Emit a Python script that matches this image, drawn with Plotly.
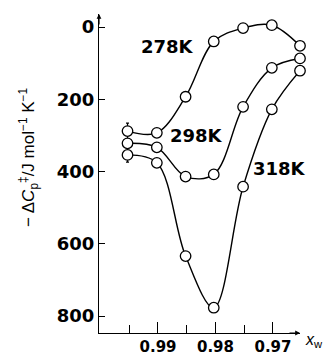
import plotly.graph_objects as go

# x_w values (mole fraction of water)
x_w = [0.9953, 0.9902, 0.9852, 0.9803, 0.9752, 0.9702, 0.9653]

# -ΔCp‡ values (J mol-1 K-1)
cp_278 = [288, 293, 193, 40, 3, -5, 52]
cp_298 = [322, 333, 414, 408, 221, 113, 87]
cp_318 = [354, 376, 634, 777, 442, 228, 121]

# error bar on the first point (drawn on the 298 K series)
err_plus = [52, 0, 0, 0, 0, 0, 0]
err_minus = [56, 0, 0, 0, 0, 0, 0]

series_labels = ["278K", "298K", "318K"]
y_ticks = [0, 200, 400, 600, 800]
x_ticks = [0.99, 0.98, 0.97]
x_ticklabels = ["0.99", "0.98", "0.97"]
x_minor = [0.995, 0.985, 0.975]

FONT = "DejaVu Sans"

fig = go.Figure()

marker = dict(size=10.5, color="white", line=dict(color="black", width=1.3))
line = dict(color="black", width=1.4, shape="spline", smoothing=1.0)

fig.add_trace(go.Scatter(x=x_w, y=cp_298, mode="lines+markers", marker=marker, line=line,
                         cliponaxis=False,
                         error_y=dict(type="data", symmetric=False, array=err_plus,
                                      arrayminus=err_minus, color="black", thickness=1.2, width=1.5)))
fig.add_trace(go.Scatter(x=x_w, y=cp_278, mode="lines+markers", marker=marker, line=line,
                         cliponaxis=False))
fig.add_trace(go.Scatter(x=x_w, y=cp_318, mode="lines+markers", marker=marker, line=line,
                         cliponaxis=False))

label_pos = [(0.98843, 55), (0.98327, 299), (0.96878, 391)]
for txt, (lx, ly) in zip(series_labels, label_pos):
    fig.add_annotation(x=lx, y=ly, xref="x", yref="y", text=txt, showarrow=False,
                       font=dict(family=FONT, size=18, color="black", weight="bold"))

# y-axis title
fig.add_annotation(xref="paper", yref="paper", x=-0.348, y=0.552,
                   xanchor="center", yanchor="middle",
                   text="− Δ<i>C</i><sub>p</sub><sup>‡</sup>/J mol<sup>−1</sup> K<sup>−1</sup>",
                   textangle=-90, showarrow=False,
                   font=dict(family="Liberation Sans", size=17, color="black"))
# x-axis title
fig.add_annotation(xref="paper", yref="paper", x=1.015, y=0.012, xanchor="left", yanchor="top",
                   text="<i>x</i><sub>w</sub>", showarrow=False,
                   font=dict(family="Liberation Sans", size=16, color="black"))

# axis arrows
fig.add_annotation(xref="paper", yref="paper", x=0, y=1.0, ax=0, ay=12,
                   axref="pixel", ayref="pixel", showarrow=True, arrowhead=2,
                   arrowsize=0.8, arrowwidth=1.2, arrowcolor="black", text="")
fig.add_annotation(xref="paper", yref="paper", x=1.0, y=0, ax=-12, ay=0,
                   axref="pixel", ayref="pixel", showarrow=True, arrowhead=2,
                   arrowsize=0.8, arrowwidth=1.2, arrowcolor="black", text="")

fig.update_layout(
    width=329, height=355,
    margin=dict(l=99, r=29, t=14, b=22, autoexpand=False),
    paper_bgcolor="white", plot_bgcolor="white",
    showlegend=False,
    xaxis=dict(range=[1.00026, 0.9653], showgrid=False, zeroline=False, automargin=False,
               showline=True, linecolor="black", linewidth=1.3,
               tickmode="array", tickvals=x_ticks, ticktext=x_ticklabels,
               ticks="inside", ticklen=11, tickwidth=1.3, tickcolor="black",
               tickfont=dict(family=FONT, size=15, color="black", weight="bold"),
               minor=dict(tickmode="array", tickvals=x_minor, ticks="inside",
                          ticklen=8, tickwidth=1.3, tickcolor="black", showgrid=False)),
    yaxis=dict(range=[847, -36], showgrid=False, zeroline=False, automargin=False,
               showline=True, linecolor="black", linewidth=1.3,
               tickmode="array", tickvals=y_ticks,
               ticks="inside", ticklen=6, tickwidth=1.3, tickcolor="black",
               tickfont=dict(family=FONT, size=18, color="black", weight="bold")),
)

fig.write_html("out.html", config={"displayModeBar": False},
               post_script="document.body.style.margin='0';document.body.style.overflow='hidden';")
